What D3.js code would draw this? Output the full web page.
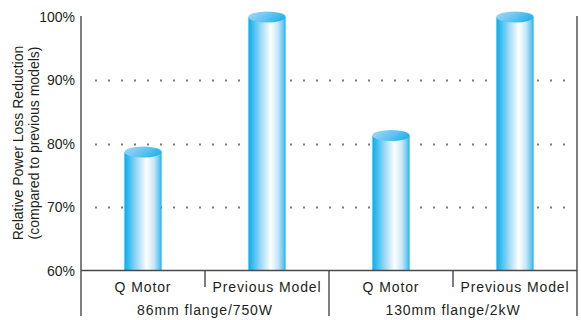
<!DOCTYPE html>
<html>
<head>
<meta charset="utf-8">
<script src="https://cdn.jsdelivr.net/npm/d3@7/dist/d3.min.js"></script>
<style>
  html, body { margin: 0; padding: 0; background: #fff; }
  svg { display: block; }
  text { fill: #231f20; }
</style>
</head>
<body>
<svg id="chart" width="581" height="320"></svg>
<script>
// Flange sizes (outer groups) and models compared within each group
const groups = ["86mm flange/750W", "130mm flange/2kW"];
const models = ["Q Motor", "Previous Model"];
// Relative power loss (%) per group, in model order
const lossSmall = [78.7, 100];
const lossLarge = [81.3, 100];
const yTicks = [60, 70, 80, 90, 100];
const gridTicks = [70, 80, 90];
const yTitle = ["Relative Power Loss Reduction", "(compared to previous models)"];

const rows = [];
[lossSmall, lossLarge].forEach((vals, gi) => {
  models.forEach((m, mi) => rows.push({ group: groups[gi], model: m, key: gi + "-" + mi, value: vals[mi] }));
});

const svg = d3.select("#chart");
const plotLeft = 81, plotRight = 577, plotTop = 16, plotBottom = 316;

const y = d3.scaleLinear().domain([60, 100]).range([270.5, 17]);
const x = d3.scaleBand().domain(rows.map(d => d.key)).range([plotLeft, plotRight]).padding(0);
const xg = d3.scaleBand().domain(groups).range([plotLeft, plotRight]).padding(0);

const barW = x.bandwidth() * 0.3;
const ry = 5.5;

// Gradients for the cylinders
const defs = svg.append("defs");
const body = defs.append("linearGradient").attr("id", "body").attr("x1", 0).attr("x2", 1).attr("y1", 0).attr("y2", 0);
[["0%", "#00aeef"], ["8%", "#2ab8f0"], ["35%", "#a3dbf6"], ["60%", "#ffffff"], ["80%", "#c4e7f8"], ["94%", "#62c5f0"], ["100%", "#19b1ec"]]
  .forEach(([o, c]) => body.append("stop").attr("offset", o).attr("stop-color", c));
const cap = defs.append("linearGradient").attr("id", "cap").attr("x1", 0).attr("x2", 1).attr("y1", 0.3).attr("y2", 0.7);
[["0%", "#9ad6f5"], ["55%", "#5cc3f0"], ["100%", "#18b0ec"]]
  .forEach(([o, c]) => cap.append("stop").attr("offset", o).attr("stop-color", c));

// Dotted reference lines
svg.append("g").selectAll("line").data(gridTicks).join("line")
  .attr("x1", plotLeft + 14).attr("x2", plotRight - 4)
  .attr("y1", d => Math.round(y(d)) + 0.5).attr("y2", d => Math.round(y(d)) + 0.5)
  .attr("stroke", "#7a7a7a").attr("stroke-width", 2)
  .attr("stroke-dasharray", "2,11");

// Cylinders
const bars = svg.append("g").selectAll("g").data(rows).join("g");
bars.append("rect")
  .attr("x", d => x(d.key) + x.bandwidth() / 2 - barW / 2)
  .attr("width", barW)
  .attr("y", d => y(d.value))
  .attr("height", d => y(60) - y(d.value))
  .attr("fill", "url(#body)");
bars.append("ellipse")
  .attr("cx", d => x(d.key) + x.bandwidth() / 2)
  .attr("cy", d => y(d.value))
  .attr("rx", barW / 2)
  .attr("ry", ry)
  .attr("fill", "url(#cap)");

// Axes and frame
const axisColor = "#3a3a3a";
svg.append("line").attr("x1", plotLeft).attr("x2", plotLeft).attr("y1", plotTop).attr("y2", plotBottom)
  .attr("stroke", axisColor).attr("stroke-width", 1.3);
svg.append("line").attr("x1", plotRight).attr("x2", plotRight).attr("y1", plotTop).attr("y2", plotBottom)
  .attr("stroke", axisColor).attr("stroke-width", 1.3);
svg.append("line").attr("x1", plotLeft).attr("x2", plotRight).attr("y1", y(60)).attr("y2", y(60))
  .attr("stroke", "#4a4a4a").attr("stroke-width", 1.5);

// Separators between models and between groups
svg.append("g").selectAll("line").data(groups).join("line")
  .attr("x1", d => xg(d) + xg.bandwidth() / 2).attr("x2", d => xg(d) + xg.bandwidth() / 2)
  .attr("y1", y(60)).attr("y2", 287)
  .attr("stroke", axisColor).attr("stroke-width", 1.3);
svg.append("line")
  .attr("x1", xg(groups[1])).attr("x2", xg(groups[1]))
  .attr("y1", y(60)).attr("y2", plotBottom)
  .attr("stroke", axisColor).attr("stroke-width", 1.3);

// Y tick labels
svg.append("g").selectAll("text").data(yTicks).join("text")
  .attr("x", plotLeft - 6).attr("y", d => y(d)).attr("dy", "0.36em")
  .attr("text-anchor", "end")
  .style("font-family", "'Liberation Sans Narrow', 'Liberation Sans', Arial, sans-serif")
  .style("font-size", "14px")
  .text(d => d + "%");

// Y axis title
svg.append("g").attr("transform", "translate(23,143) rotate(-90)")
  .selectAll("text").data(yTitle).join("text")
  .attr("x", 0).attr("y", (d, i) => i * 15.5)
  .attr("text-anchor", "middle")
  .style("font-family", "'Liberation Sans', Arial, sans-serif")
  .style("font-size", "14px")
  .text(d => d);

// Model labels
svg.append("g").selectAll("text").data(rows).join("text")
  .attr("x", d => x(d.key) + x.bandwidth() / 2).attr("y", 292)
  .attr("text-anchor", "middle")
  .style("font-family", "'Liberation Sans', Arial, sans-serif")
  .style("font-size", "14px").style("letter-spacing", "0.9px")
  .text(d => d.model);

// Group labels
svg.append("g").selectAll("text").data(groups).join("text")
  .attr("x", d => xg(d) + xg.bandwidth() / 2).attr("y", 315)
  .attr("text-anchor", "middle")
  .style("font-family", "'Liberation Sans', Arial, sans-serif")
  .style("font-size", "14px").style("letter-spacing", "0.9px")
  .text(d => d);
</script>
</body>
</html>
